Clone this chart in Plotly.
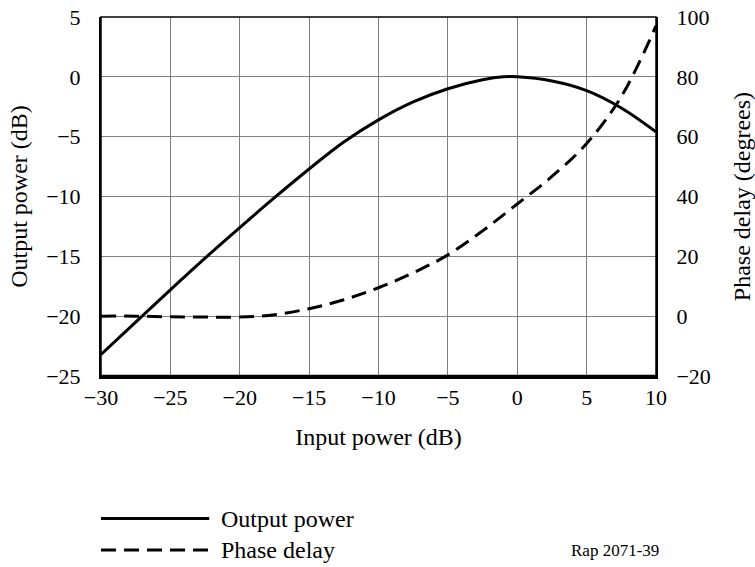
import plotly.graph_objects as go

# Data
input_power = [-30, -27.5, -25, -22.5, -20, -17.5, -15, -12.5, -10, -7.5, -5, -2.5, -1, 0, 2.5, 5, 7.5, 10]
output_power = [-23.2, -20.5, -17.8, -15.15, -12.6, -10.1, -7.7, -5.45, -3.6, -2.1, -1.0, -0.25, 0.0, 0.0, -0.35, -1.15, -2.6, -4.6]

phase_x = [-30, -27.5, -25, -22.5, -20, -17.5, -15, -12.5, -10, -7.5, -5, -2.5, 0, 2.5, 5, 7.5, 10]
phase_delay = [0, 0, -0.2, -0.3, -0.3, 0.5, 2.5, 5.5, 9.5, 14.5, 20.5, 28.5, 37.5, 46.7, 57.7, 73.4, 97]

x_ticks = [-30, -25, -20, -15, -10, -5, 0, 5, 10]
y_ticks = [-25, -20, -15, -10, -5, 0, 5]
y2_ticks = [-20, 0, 20, 40, 60, 80, 100]

FONT = "Liberation Serif"
TICK = dict(family=FONT, size=22, color="black")
TITLE = dict(family=FONT, size=24, color="black")

fig = go.Figure()
fig.add_trace(go.Scatter(x=input_power, y=output_power, mode="lines", name="Output power",
                         line=dict(color="black", width=3, shape="spline", smoothing=1.0),
                         showlegend=False, hoverinfo="skip"))
fig.add_trace(go.Scatter(x=phase_x, y=phase_delay, mode="lines", name="Phase delay", yaxis="y2",
                         line=dict(color="black", width=3, dash="15px,8px", shape="spline", smoothing=1.0),
                         showlegend=False, hoverinfo="skip"))

fig.update_layout(
    width=755, height=567,
    margin=dict(l=101, r=99, t=17, b=191, autoexpand=False),
    paper_bgcolor="white", plot_bgcolor="white",
    font=dict(family=FONT, color="black"),
    xaxis=dict(range=[-30, 10], tickvals=x_ticks, showgrid=True, gridcolor="#808080", gridwidth=1,
               zeroline=False, showline=True, linecolor="black", linewidth=2.5, ticks="",
               tickfont=TICK, ticklabelstandoff=0, automargin=False,
               title=dict(text="Input power (dB)", font=TITLE, standoff=20)),
    yaxis=dict(range=[-25, 5], tickvals=y_ticks, showgrid=True, gridcolor="#808080", gridwidth=1,
               zeroline=False, showline=True, linecolor="black", linewidth=2, ticks="",
               tickfont=TICK, ticklabelstandoff=14, automargin=False,
               title=dict(text="Output power (dB)", font=TITLE, standoff=12)),
    yaxis2=dict(range=[-20, 100], tickvals=y2_ticks, overlaying="y", side="right", showgrid=False,
                zeroline=False, showline=True, linecolor="black", linewidth=2, ticks="",
                tickfont=TICK, ticklabelstandoff=14, automargin=False,
                title=dict(text="Phase delay (degrees)", font=TITLE, standoff=24)),
)

# Plot frame (top & right edges) and thicker bottom axis
fig.add_shape(type="rect", xref="paper", yref="paper", x0=0, x1=1, y0=0, y1=1,
              line=dict(color="black", width=1.5), layer="above")
fig.add_shape(type="line", xref="paper", yref="paper", x0=0, x1=1, y0=0, y1=0,
              line=dict(color="black", width=2.5), layer="above")

# Legend drawn below the chart
fig.add_shape(type="line", xref="paper", yref="paper", x0=0.0, x1=0.195, y0=-0.397, y1=-0.397,
              line=dict(color="black", width=3))
fig.add_shape(type="line", xref="paper", yref="paper", x0=0.0, x1=0.195, y0=-0.485, y1=-0.485,
              line=dict(color="black", width=3, dash="15px,8px"))
fig.add_annotation(text="Output power", xref="paper", yref="paper", x=0.212, y=-0.397,
                   xanchor="left", yanchor="middle", showarrow=False,
                   font=dict(family=FONT, size=24, color="black"))
fig.add_annotation(text="Phase delay", xref="paper", yref="paper", x=0.212, y=-0.485,
                   xanchor="left", yanchor="middle", showarrow=False,
                   font=dict(family=FONT, size=24, color="black"))
fig.add_annotation(text="Rap 2071-39", xref="paper", yref="paper", x=0.926, y=-0.485,
                   xanchor="center", yanchor="middle", showarrow=False,
                   font=dict(family=FONT, size=17, color="black"))

fig.write_html("out.html", config={"displayModeBar": False},
               post_script="document.body.style.margin='0px';")
